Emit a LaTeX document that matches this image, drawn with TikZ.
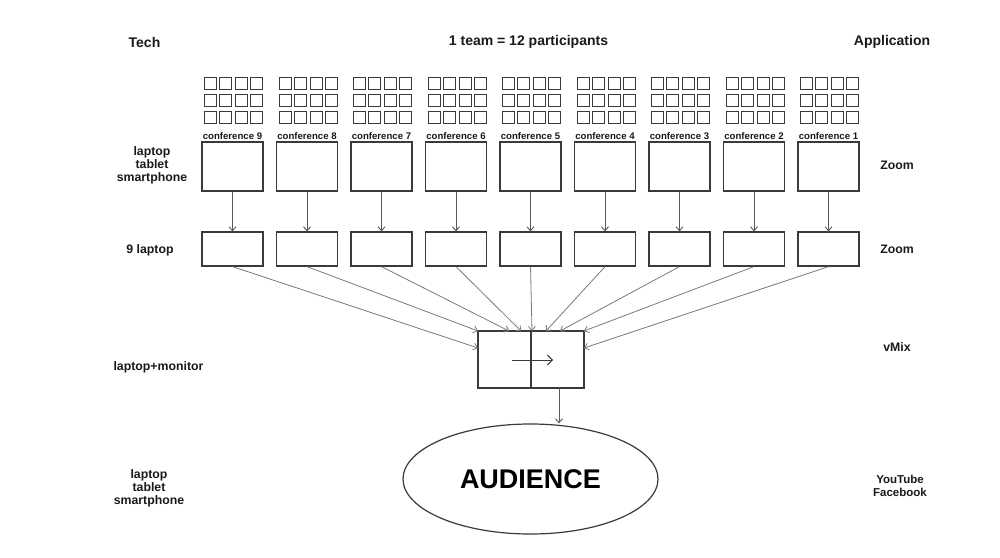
\documentclass[tikz,border=0pt]{standalone}
\usepackage{fontspec}
\setmainfont{Liberation Sans}
\usetikzlibrary{arrows.meta,shapes.geometric}
\definecolor{boxc}{HTML}{3A3A3A}
\definecolor{linec}{HTML}{7A7A7A}
\definecolor{txtc}{HTML}{1A1A1A}
\begin{document}
\begin{tikzpicture}[x=1pt,y=-1pt,
  hdr/.style={font=\bfseries\fontsize{14}{14}\selectfont, text=txtc, inner sep=0pt},
  side/.style={font=\bfseries\fontsize{12.3}{13}\selectfont, text=txtc, inner sep=0pt, align=center},
  conf/.style={font=\bfseries\fontsize{9.6}{10}\selectfont, text=txtc, inner sep=0pt},
  upbox/.style={draw=boxc, line width=1.2pt, minimum width=61pt, minimum height=49pt, inner sep=0pt},
  lowbox/.style={draw=boxc, line width=1.2pt, minimum width=61pt, minimum height=34pt, inner sep=0pt},
  sq/.style={draw=boxc, line width=1.1pt},
  varr/.style={draw=boxc!85, line width=0.9pt, -{Straight Barb[length=4pt,width=7pt]}},
  darr/.style={draw=linec, line width=0.8pt, -{Straight Barb[length=4pt,width=7pt]}},
]
\useasboundingbox (0,0) rectangle (1000,557);
\fill[white] (0,0) rectangle (1000,557);

% headers
\node[hdr] (tech) at (144.5,42) {Tech};
\node[hdr] (team) at (528.5,42) {1 team = 12 participants};
\node[hdr] (app) at (892,42) {Application};

% side labels
\node[side] (tl1) at (152,165) {laptop\\tablet\\smartphone};
\node[side] (tl2) at (150,250) {9 laptop};
\node[side] (tl3) at (158.5,367) {laptop+monitor};
\node[side] (tl4) at (149,488) {laptop\\tablet\\smartphone};
\node[side] (ap1) at (897,165) {Zoom};
\node[side] (ap2) at (897,249.5) {Zoom};
\node[side] (ap3) at (897,347) {vMix};
\node[side, font=\bfseries\fontsize{11.5}{12.5}\selectfont] (ap4) at (900,486) {YouTube\\Facebook};

% conferences
\foreach \k in {1,...,9}{
  \pgfmathsetmacro{\cx}{232.5+(9-\k)*74.5}
  \pgfmathsetmacro{\gx}{round(\cx-28.5)+0.5}
  \foreach \r in {0,1,2}{
    \foreach \c in {0,1,2,3}{
      \draw[sq] ({\gx+round(\c*15.4)}, {77.5+round(\r*16.8)}) rectangle ++(12,12);
    }
  }
  \node[conf] (c\k) at (\cx,136) {conference \k};
  \node[upbox] (u\k) at (\cx,166.5) {};
  \node[lowbox] (l\k) at (\cx,249) {};
  \draw[varr] (u\k) -- (l\k);
}

% mixer
\node[draw=boxc, line width=1.2pt, minimum width=106pt, minimum height=57pt, inner sep=0pt] (mix) at (531,359.5) {};
\draw[boxc, line width=1.2pt] (mix.north) -- (mix.south);
\coordinate (ia) at (512,360);
\coordinate (ib) at (553,360);
\draw[boxc, line width=1pt, -{Straight Barb[length=5pt,width=10pt]}] (ia) -- (ib);

% targets on mixer
\coordinate (t9) at (478,348);
\coordinate (t8) at (478,331);
\coordinate (t7) at (509,331);
\coordinate (t6) at (521,331);
\coordinate (t5) at (532,331);
\coordinate (t4) at (546,331);
\coordinate (t3) at (560,331);
\coordinate (t2) at (584,331);
\coordinate (t1) at (584,348);
\foreach \k in {1,...,9}{
  \draw[darr] (l\k.south) -- (t\k);
}

% audience
\node[ellipse, draw=boxc, line width=1.2pt, minimum width=255pt, minimum height=110pt, inner sep=0pt,
      font=\bfseries\fontsize{27}{27}\selectfont, text=black] (aud) at (530.5,479) {AUDIENCE};
\coordinate (mo) at (559,388);
\draw[varr] (mo) -- (mo |- aud.north);
\end{tikzpicture}
\end{document}
